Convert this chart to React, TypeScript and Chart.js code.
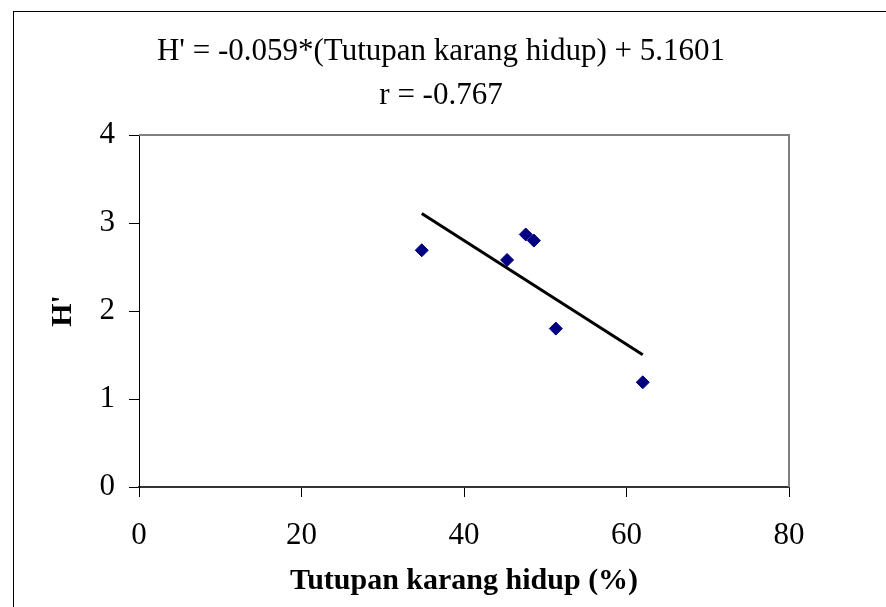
import { useEffect, useRef } from "react";
import { Chart, registerables } from "chart.js";

Chart.register(...registerables);

// Live coral cover (%) per station and the Shannon diversity index H'
const coverPercent = [34.8, 45.3, 47.6, 48.6, 51.3, 62.0];
const diversityIndex = [2.69, 2.58, 2.87, 2.8, 1.8, 1.19];

// Linear regression reported in the heading
const slope = -0.059;
const intercept = 5.1601;

const xTicks = [0, 20, 40, 60, 80];
const yTicks = [0, 1, 2, 3, 4];

const headingLines = [
  "H' = -0.059*(Tutupan karang hidup) + 5.1601",
  "r = -0.767",
];
const xTitle = "Tutupan karang hidup (%)";
const yTitle = "H'";

const SERIF = '"Liberation Serif", "Times New Roman", serif';

const CANVAS_W = 900;
const CANVAS_H = 620;

export default function App() {
  const canvasRef = useRef<HTMLCanvasElement | null>(null);

  useEffect(() => {
    const canvas = canvasRef.current;
    if (!canvas) return;

    const xMin = Math.min(...coverPercent);
    const xMax = Math.max(...coverPercent);
    const trend = [xMin, xMax].map((x) => ({ x, y: slope * x + intercept }));
    const points = coverPercent.map((x, i) => ({ x, y: diversityIndex[i] }));

    // Grey frame on the top and right of the plot area
    const plotFrame = {
      id: "plotFrame",
      beforeDatasetsDraw(chart: Chart) {
        const { ctx, chartArea } = chart;
        ctx.save();
        ctx.strokeStyle = "#808080";
        ctx.lineWidth = 2;
        ctx.beginPath();
        ctx.moveTo(chartArea.left, chartArea.top);
        ctx.lineTo(chartArea.right, chartArea.top);
        ctx.lineTo(chartArea.right, chartArea.bottom);
        ctx.stroke();
        ctx.restore();
      },
    };

    // Two-line heading with the regression equation and r
    const heading = {
      id: "heading",
      afterDraw(chart: Chart) {
        const { ctx } = chart;
        ctx.save();
        ctx.fillStyle = "#000";
        ctx.font = `31px ${SERIF}`;
        ctx.textAlign = "center";
        ctx.textBaseline = "middle";
        headingLines.forEach((line, i) => {
          ctx.fillText(line, 427, 39.5 + i * 44.5);
        });
        ctx.restore();
      },
    };

    const chart = new Chart(canvas, {
      type: "scatter",
      data: {
        datasets: [
          {
            label: "trend",
            data: trend,
            showLine: true,
            borderColor: "#000",
            borderWidth: 3,
            pointRadius: 0,
            pointHoverRadius: 0,
          },
          {
            label: "H'",
            data: points,
            pointStyle: "rectRot",
            pointRadius: 6.5,
            pointHoverRadius: 6.5,
            backgroundColor: "#000080",
            borderColor: "#000080",
            borderWidth: 1,
          },
        ],
      },
      options: {
        animation: false,
        responsive: false,
        devicePixelRatio: 1,
        layout: { padding: { top: 123, left: 0, right: 125, bottom: 25 } },
        plugins: {
          legend: { display: false },
          tooltip: { enabled: false },
          title: { display: false },
        },
        scales: {
          x: {
            type: "linear",
            min: 0,
            max: 80,
            afterBuildTicks: (scale: any) => {
              scale.ticks = xTicks.map((v) => ({ value: v }));
            },
            afterFit: (scale: any) => {
              scale.height = 120;
            },
            ticks: {
              color: "#000",
              padding: 20,
              font: { family: SERIF, size: 31 },
            },
            grid: {
              drawOnChartArea: false,
              drawTicks: true,
              tickLength: 10,
              color: "#000",
            },
            border: { display: true, color: "#333", width: 2 },
            title: {
              display: true,
              text: xTitle,
              color: "#000",
              font: { family: SERIF, size: 30, weight: "bold" },
              padding: { top: 0, bottom: 8 },
            },
          },
          y: {
            type: "linear",
            min: 0,
            max: 4,
            afterBuildTicks: (scale: any) => {
              scale.ticks = yTicks.map((v) => ({ value: v }));
            },
            afterFit: (scale: any) => {
              scale.width = 125;
            },
            ticks: {
              color: "#000",
              padding: 14,
              font: { family: SERIF, size: 31 },
            },
            grid: {
              drawOnChartArea: false,
              drawTicks: true,
              tickLength: 10,
              color: "#000",
            },
            border: { display: true, color: "#000", width: 1 },
            title: {
              display: true,
              text: yTitle,
              color: "#000",
              font: { family: SERIF, size: 30, weight: "bold" },
              padding: { top: 31.5, bottom: 0 },
            },
          },
        },
      },
      plugins: [plotFrame, heading],
    });

    return () => chart.destroy();
  }, []);

  return (
    <div
      style={{
        position: "fixed",
        left: 0,
        top: 0,
        width: 886,
        height: 607,
        overflow: "hidden",
        background: "#fff",
      }}
    >
      <div
        style={{
          position: "absolute",
          left: 13,
          top: 11,
          border: "1px solid #000",
          width: CANVAS_W,
          height: CANVAS_H,
        }}
      >
        <canvas
          ref={canvasRef}
          width={CANVAS_W}
          height={CANVAS_H}
          style={{ display: "block", width: CANVAS_W, height: CANVAS_H }}
        />
      </div>
    </div>
  );
}
